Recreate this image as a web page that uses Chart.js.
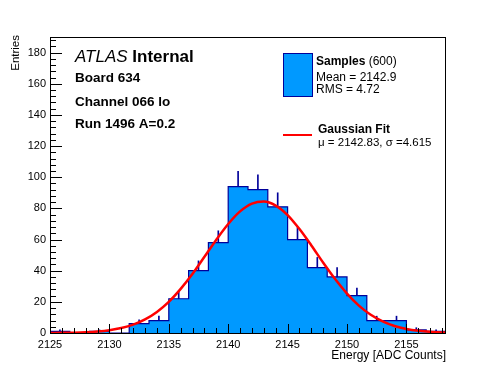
<!DOCTYPE html>
<html>
<head>
<meta charset="utf-8">
<script src="https://cdn.jsdelivr.net/npm/chart.js@4.4.1/dist/chart.umd.min.js"></script>
<style>
  html, body { margin: 0; padding: 0; background: #fff; }
</style>
</head>
<body>
<canvas id="c" width="496" height="372"></canvas>
<script>
// histogram: 20 bins from 2125 to 2158.33
const binEdges = [2125, 2126.667, 2128.333, 2130, 2131.667, 2133.333, 2135, 2136.667, 2138.333, 2140,
    2141.667, 2143.333, 2145, 2146.667, 2148.333, 2150, 2151.667, 2153.333, 2155, 2156.667, 2158.333];
const binCounts = [1, 0, 1, 0, 6, 8, 22, 40, 58, 94, 92, 81, 60, 42, 36, 24, 8, 8, 2, 1];
const binErrors = [1, 0, 1, 0, 2.4, 2.8, 4.7, 6.3, 7.6, 9.7, 9.6, 9, 7.7, 6.5, 6, 4.9, 2.8, 2.8, 1.4, 1];

// gaussian fit curve
const fitX = [2125, 2126, 2127, 2128, 2129, 2130, 2131, 2132, 2133, 2134, 2135, 2136, 2137, 2138, 2139, 2140, 2141,
    2142, 2143, 2144, 2145, 2146, 2147, 2148, 2149, 2150, 2151, 2152, 2153, 2154, 2155, 2156, 2157, 2158, 2158.333];
const fitY = [0.05, 0.11, 0.23, 0.48, 0.95, 1.77, 3.16, 5.38, 8.75, 13.55, 20.0, 28.3, 38.0, 48.9, 59.9, 70.0, 78.1,
    83.1, 84.4, 81.8, 75.7, 66.7, 56.2, 45.1, 34.6, 25.3, 17.6, 11.7, 7.45, 4.51, 2.61, 1.44, 0.76, 0.38, 0.3];

const xMajorTicks = [2125, 2130, 2135, 2140, 2145, 2150, 2155];
const yMajorTicks = [0, 20, 40, 60, 80, 100, 120, 140, 160, 180];

const FONT = '"Liberation Sans", Arial, Helvetica, sans-serif';
const histFill = "#0099ff";
const histLine = "#00009a";

// step outline points (left edge of each bin carries its value)
const stepPoints = [{ x: binEdges[0], y: 0 }];
binCounts.forEach((v, i) => stepPoints.push({ x: binEdges[i], y: v }));
stepPoints.push({ x: binEdges[binEdges.length - 1], y: binCounts[binCounts.length - 1] });
stepPoints.push({ x: binEdges[binEdges.length - 1], y: 0 });

const errorPoints = [];
binCounts.forEach((v, i) => {
    if (v > 0) {
        errorPoints.push({ x: (binEdges[i] + binEdges[i + 1]) / 2, y: [v, v + binErrors[i]] });
    }
});

const fitPoints = fitX.map((x, i) => ({ x: x, y: fitY[i] }));

// ROOT style frame, inward ticks and text
const rootFrame = {
    id: "rootFrame",
    afterDraw(chart) {
        const { ctx, chartArea: a, scales } = chart;
        const xs = scales.x, ys = scales.y;
        ctx.save();
        ctx.strokeStyle = "#000";
        ctx.lineWidth = 1;
        ctx.strokeRect(a.left + 0.5, a.top + 0.5, a.right - a.left - 1, a.bottom - a.top);

        ctx.beginPath();
        for (let v = xs.min; v <= xs.max; v += 1) {
            const px = Math.round(xs.getPixelForValue(v)) + 0.5;
            const len = xMajorTicks.includes(v) ? 9 : 5;
            ctx.moveTo(px, a.bottom);
            ctx.lineTo(px, a.bottom - len);
        }
        for (let v = 0; v <= ys.max; v += 4) {
            const py = Math.round(ys.getPixelForValue(v)) + 0.5;
            const len = yMajorTicks.includes(v) ? 12 : 6;
            ctx.moveTo(a.left, py);
            ctx.lineTo(a.left + len, py);
        }
        ctx.stroke();

        // axis titles
        ctx.fillStyle = "#000";
        ctx.font = "12px " + FONT;
        ctx.textAlign = "right";
        ctx.fillText("Energy [ADC Counts]", a.right, 359);
        ctx.save();
        ctx.translate(19, a.top - 2);
        ctx.rotate(-Math.PI / 2);
        ctx.font = "11.5px " + FONT;
        ctx.fillText("Entries", 0, 0);
        ctx.restore();

        // labels
        ctx.textAlign = "left";
        ctx.font = "italic 17px " + FONT;
        ctx.fillText("ATLAS", 75, 62);
        const w = ctx.measureText("ATLAS ").width;
        ctx.font = "bold 17px " + FONT;
        ctx.fillText("Internal", 75 + w, 62);
        ctx.font = "bold 13.5px " + FONT;
        ctx.fillText("Board 634", 75, 82);
        ctx.fillText("Channel 066 lo", 75, 105.5);
        ctx.fillText("Run 1496 A=0.2", 75, 128);

        // legend
        ctx.fillStyle = histFill;
        ctx.fillRect(283, 53, 29, 43);
        ctx.strokeStyle = histLine;
        ctx.strokeRect(283.5, 53.5, 29, 43);
        ctx.fillStyle = "#000";
        ctx.font = "bold 12px " + FONT;
        ctx.fillText("Samples", 316, 64.5);
        const ws = ctx.measureText("Samples").width;
        ctx.font = "12px " + FONT;
        ctx.fillText(" (600)", 316 + ws, 64.5);
        ctx.fillText("Mean = 2142.9", 316, 81);
        ctx.fillText("RMS = 4.72", 316, 93);

        ctx.strokeStyle = "#ff0000";
        ctx.lineWidth = 2;
        ctx.beginPath();
        ctx.moveTo(283, 135);
        ctx.lineTo(312, 135);
        ctx.stroke();
        ctx.font = "bold 12px " + FONT;
        ctx.fillText("Gaussian Fit", 318, 132.5);
        ctx.font = "11.5px " + FONT;
        ctx.fillText("\u03bc = 2142.83, \u03c3 =4.615", 318, 146);
        ctx.restore();
    }
};

const ctx = document.getElementById("c").getContext("2d");
new Chart(ctx, {
    type: "line",
    data: {
        datasets: [
            {
                label: "Gaussian Fit",
                data: fitPoints,
                borderColor: "#ff0000",
                borderWidth: 2.5,
                pointRadius: 0,
                tension: 0.4,
                cubicInterpolationMode: "monotone",
                fill: false,
                order: 0,
            },
            {
                type: "bar",
                label: "errors",
                data: errorPoints,
                backgroundColor: histLine,
                borderWidth: 0,
                barThickness: 1,
                order: 1,
            },
            {
                label: "Samples",
                data: stepPoints,
                stepped: true,
                borderColor: histLine,
                borderWidth: 1.2,
                backgroundColor: histFill,
                pointRadius: 0,
                fill: "origin",
                order: 2,
            },
        ],
    },
    options: {
        responsive: false,
        animation: false,
        layout: { padding: { left: 0, right: 50, top: 37, bottom: 0 } },
        plugins: {
            legend: { display: false },
            tooltip: { enabled: false },
        },
        scales: {
            x: {
                type: "linear",
                min: 2125,
                max: 2158.333,
                offset: false,
                grid: { display: false, drawTicks: false },
                border: { display: false },
                ticks: {
                    color: "#000",
                    font: { family: FONT, size: 11 },
                    padding: 5,
                    maxRotation: 0,
                    autoSkip: false,
                    callback: (v) => String(v),
                },
                afterBuildTicks: (scale) => {
                    scale.ticks = xMajorTicks.map((v) => ({ value: v }));
                },
                afterFit: (scale) => {
                    scale.height = 39;
                },
            },
            y: {
                min: 0,
                max: 190,
                grid: { display: false, drawTicks: false },
                border: { display: false },
                ticks: {
                    color: "#000",
                    font: { family: FONT, size: 11 },
                    padding: 4,
                },
                afterBuildTicks: (scale) => {
                    scale.ticks = yMajorTicks.map((v) => ({ value: v }));
                },
                afterFit: (scale) => {
                    scale.width = 50;
                },
            },
        },
    },
    plugins: [rootFrame],
});
</script>
</body>
</html>
